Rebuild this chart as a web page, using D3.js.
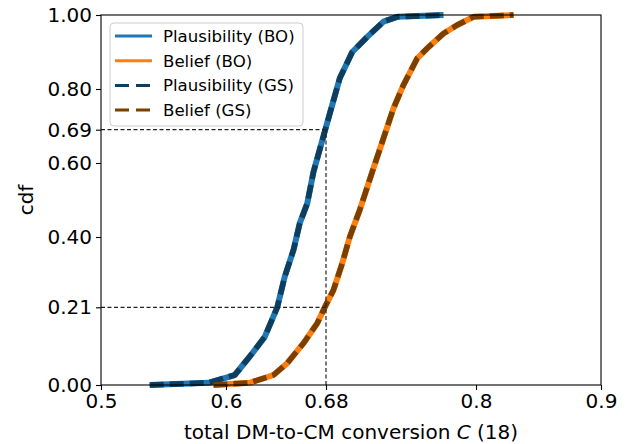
<!DOCTYPE html>
<html>
<head>
<meta charset="utf-8">
<script src="https://cdn.jsdelivr.net/npm/d3@7"></script>
<style>
  body { margin: 0; background: #fff; }
  text { font-family: "DejaVu Sans", sans-serif; fill: #000; }
</style>
</head>
<body>
<svg id="chart" width="638" height="444"></svg>
<script>
// conversion values (x) and cdf (y)
const plausBOx = [0.539, 0.586, 0.607, 0.619, 0.631, 0.641, 0.647, 0.654, 0.659, 0.665, 0.670, 0.679, 0.685, 0.691, 0.701, 0.713, 0.726, 0.737, 0.774];
const plausBOy = [0.000, 0.006, 0.027, 0.077, 0.130, 0.210, 0.293, 0.365, 0.437, 0.491, 0.576, 0.685, 0.757, 0.829, 0.900, 0.941, 0.982, 0.995, 1.000];
const beliefBOx = [0.590, 0.619, 0.638, 0.649, 0.662, 0.673, 0.679, 0.686, 0.693, 0.699, 0.707, 0.717, 0.726, 0.734, 0.742, 0.753, 0.761, 0.774, 0.785, 0.798, 0.830];
const beliefBOy = [0.000, 0.006, 0.027, 0.059, 0.113, 0.167, 0.210, 0.257, 0.329, 0.400, 0.473, 0.576, 0.667, 0.748, 0.811, 0.883, 0.910, 0.950, 0.973, 0.995, 1.000];
// grid search results lie on top of the BO curves
const plausGSx = [0.539, 0.586, 0.607, 0.619, 0.631, 0.641, 0.647, 0.654, 0.659, 0.665, 0.670, 0.679, 0.685, 0.691, 0.701, 0.713, 0.726, 0.737, 0.774];
const plausGSy = [0.000, 0.006, 0.027, 0.077, 0.130, 0.210, 0.293, 0.365, 0.437, 0.491, 0.576, 0.685, 0.757, 0.829, 0.900, 0.941, 0.982, 0.995, 1.000];
const beliefGSx = [0.590, 0.619, 0.638, 0.649, 0.662, 0.673, 0.679, 0.686, 0.693, 0.699, 0.707, 0.717, 0.726, 0.734, 0.742, 0.753, 0.761, 0.774, 0.785, 0.798, 0.830];
const beliefGSy = [0.000, 0.006, 0.027, 0.059, 0.113, 0.167, 0.210, 0.257, 0.329, 0.400, 0.473, 0.576, 0.667, 0.748, 0.811, 0.883, 0.910, 0.950, 0.973, 0.995, 1.000];

const xTicks = [0.5, 0.6, 0.68, 0.8, 0.9];
const xTickLabels = ['0.5', '0.6', '0.68', '0.8', '0.9'];
const yTicks = [0, 0.21, 0.4, 0.6, 0.69, 0.8, 1.0];
const yTickLabels = ['0.00', '0.21', '0.40', '0.60', '0.69', '0.80', '1.00'];
const legendLabels = ['Plausibility (BO)', 'Belief (BO)', 'Plausibility (GS)', 'Belief (GS)'];
const markX = 0.68;            // reference conversion
const markY = [0.69, 0.21];    // plausibility / belief at markX

const plotLeft = 101, plotRight = 601, plotTop = 15, plotBottom = 385;
const svg = d3.select('#chart');

const x = d3.scaleLinear().domain([0.5, 0.9]).range([plotLeft, plotRight]);
const y = d3.scaleLinear().domain([0, 1]).range([plotBottom, plotTop]);

const zip = (xs, ys) => xs.map((v, i) => [v, ys[i]]);
const line = d3.line().x(d => x(d[0])).y(d => y(d[1]));

// series: solid BO first, dashed GS on top
const series = [
  { data: zip(plausBOx, plausBOy), color: '#1f77b4', width: 6, dash: null },
  { data: zip(beliefBOx, beliefBOy), color: '#ff7f0e', width: 6, dash: null },
  { data: zip(plausGSx, plausGSy), color: '#0f3d5e', width: 5.5, dash: '14,6' },
  { data: zip(beliefGSx, beliefGSy), color: '#7b3f00', width: 5.5, dash: '14,6' }
];

const plot = svg.append('g');
series.forEach(s => {
  plot.append('path')
    .attr('d', line(s.data))
    .attr('fill', 'none')
    .attr('stroke', s.color)
    .attr('stroke-width', s.width)
    .attr('stroke-linejoin', 'round')
    .attr('stroke-dasharray', s.dash);
});

// thin dashed guides at x = 0.68
const guide = svg.append('g')
  .attr('stroke', '#222')
  .attr('stroke-width', 1.2)
  .attr('stroke-dasharray', '4,2.5')
  .attr('fill', 'none');
markY.forEach(v => {
  guide.append('line')
    .attr('x1', plotLeft).attr('x2', x(markX))
    .attr('y1', y(v)).attr('y2', y(v));
});
guide.append('line')
  .attr('x1', x(markX)).attr('x2', x(markX))
  .attr('y1', plotBottom).attr('y2', y(d3.max(markY)));

// axes
const xAxis = d3.axisBottom(x).tickValues(xTicks)
  .tickFormat((d, i) => xTickLabels[i]).tickSize(5).tickPadding(4);
const yAxis = d3.axisLeft(y).tickValues(yTicks)
  .tickFormat((d, i) => yTickLabels[i]).tickSize(5).tickPadding(4);

const gx = svg.append('g').attr('transform', `translate(0,${plotBottom})`).call(xAxis);
const gy = svg.append('g').attr('transform', `translate(${plotLeft},0)`).call(yAxis);
[gx, gy].forEach(g => {
  g.selectAll('text').attr('font-size', 20).attr('font-family', '"DejaVu Sans", sans-serif');
  g.selectAll('line').attr('stroke', '#000').attr('stroke-width', 1.1);
  g.select('.domain').remove();
});

// frame
svg.append('rect')
  .attr('x', plotLeft).attr('y', plotTop)
  .attr('width', plotRight - plotLeft).attr('height', plotBottom - plotTop)
  .attr('fill', 'none').attr('stroke', '#000').attr('stroke-width', 1.1);

// axis titles
const xLabel = svg.append('text')
  .attr('x', (plotLeft + plotRight) / 2).attr('y', 439)
  .attr('text-anchor', 'middle').attr('font-size', 20);
xLabel.append('tspan').text('total DM-to-CM conversion ');
xLabel.append('tspan').attr('font-style', 'italic').text('C');
xLabel.append('tspan').text(' (18)');

svg.append('text')
  .attr('transform', `translate(33,${(plotTop + plotBottom) / 2}) rotate(-90)`)
  .attr('text-anchor', 'middle').attr('font-size', 20)
  .text('cdf');

// legend
const legend = svg.append('g');
legend.append('rect')
  .attr('x', 110).attr('y', 23).attr('width', 193).attr('height', 103)
  .attr('rx', 4)
  .attr('fill', 'rgba(255,255,255,0.8)').attr('stroke', '#ccc').attr('stroke-width', 1);
legendLabels.forEach((label, i) => {
  const s = series[i];
  const cy = 36 + i * 24.7;
  legend.append('line')
    .attr('x1', 115).attr('x2', 152).attr('y1', cy).attr('y2', cy)
    .attr('stroke', s.color).attr('stroke-width', 3)
    .attr('stroke-dasharray', s.dash ? '14,7' : null);
  legend.append('text')
    .attr('x', 163).attr('y', cy).attr('dy', '0.35em')
    .attr('font-size', 16.6).text(label);
});
</script>
</body>
</html>
